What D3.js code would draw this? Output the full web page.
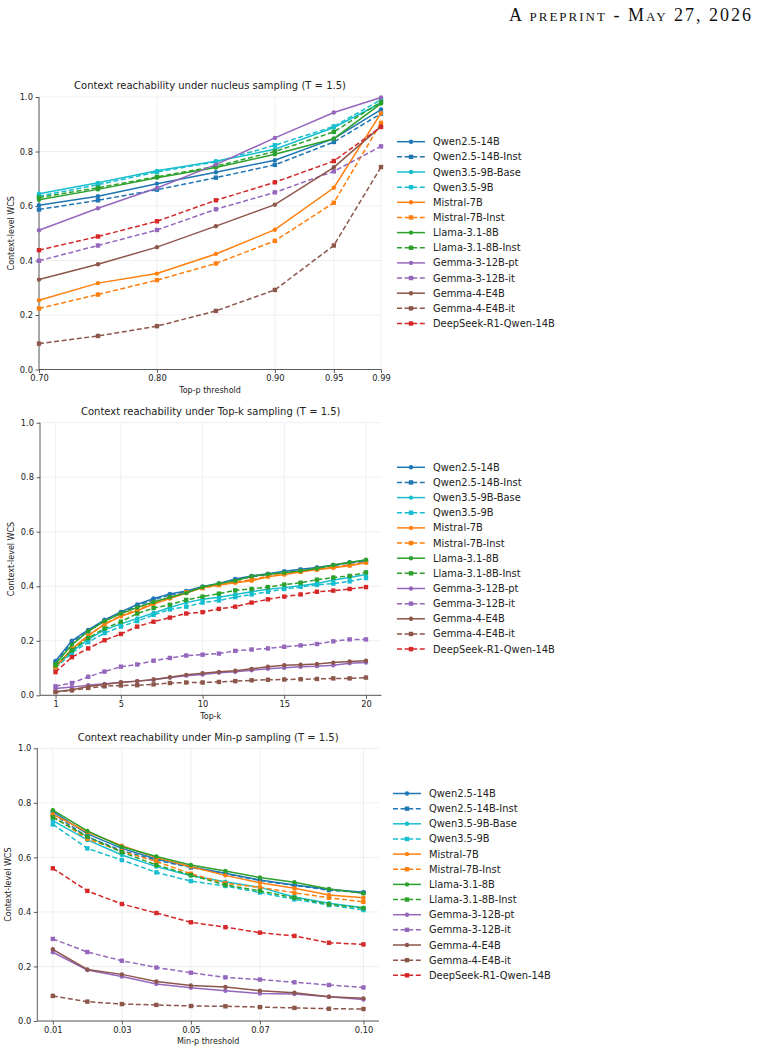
<!DOCTYPE html>
<html>
<head>
<meta charset="utf-8">
<script src="https://cdn.jsdelivr.net/npm/d3@7"></script>
<style>
  body { margin: 0; background: #fff; }
  svg { display: block; }
  text { font-family: "DejaVu Sans", sans-serif; fill: #222; }
</style>
</head>
<body>
<div id="viz"></div>
<script>

// models, in legend order
var models = ["Qwen2.5-14B", "Qwen2.5-14B-Inst", "Qwen3.5-9B-Base", "Qwen3.5-9B",
              "Mistral-7B", "Mistral-7B-Inst", "Llama-3.1-8B", "Llama-3.1-8B-Inst",
              "Gemma-3-12B-pt", "Gemma-3-12B-it", "Gemma-4-E4B", "Gemma-4-E4B-it",
              "DeepSeek-R1-Qwen-14B"];

// x values of each panel
var topP = [0.70, 0.75, 0.80, 0.85, 0.90, 0.95, 0.99];
var topK = d3.range(1, 21);
var minP = [0.01, 0.02, 0.03, 0.04, 0.05, 0.06, 0.07, 0.08, 0.09, 0.10];

var topPTicks = [0.70, 0.80, 0.90, 0.95, 0.99];
var topKTicks = [1, 5, 10, 15, 20];
var minPTicks = [0.01, 0.03, 0.05, 0.07, 0.10];

// context-level WCS, nucleus sampling (one row per model)
var nucleusWcs = [
  [0.603, 0.636, 0.682, 0.724, 0.768, 0.847, 0.954],
  [0.587, 0.621, 0.660, 0.704, 0.751, 0.835, 0.939],
  [0.645, 0.685, 0.729, 0.764, 0.808, 0.888, 0.978],
  [0.636, 0.678, 0.725, 0.762, 0.823, 0.892, 0.990],
  [0.254, 0.317, 0.352, 0.424, 0.513, 0.667, 0.941],
  [0.224, 0.275, 0.328, 0.389, 0.472, 0.612, 0.905],
  [0.623, 0.661, 0.704, 0.741, 0.790, 0.847, 0.976],
  [0.631, 0.667, 0.707, 0.746, 0.800, 0.872, 0.982],
  [0.511, 0.592, 0.666, 0.752, 0.850, 0.943, 0.998],
  [0.399, 0.455, 0.512, 0.588, 0.650, 0.727, 0.819],
  [0.330, 0.386, 0.449, 0.526, 0.605, 0.742, 0.892],
  [0.095, 0.123, 0.159, 0.215, 0.292, 0.455, 0.743],
  [0.438, 0.488, 0.544, 0.621, 0.687, 0.765, 0.890]
];

// top-k sampling, k = 1..20
var topKWcs = [
  [0.126, 0.200, 0.240, 0.277, 0.306, 0.333, 0.355, 0.372, 0.383, 0.399, 0.410, 0.427, 0.438, 0.446, 0.455, 0.462, 0.469, 0.478, 0.488, 0.494],
  [0.120, 0.194, 0.236, 0.273, 0.302, 0.328, 0.350, 0.368, 0.380, 0.396, 0.408, 0.424, 0.435, 0.443, 0.452, 0.460, 0.467, 0.476, 0.485, 0.491],
  [0.105, 0.160, 0.205, 0.240, 0.262, 0.282, 0.302, 0.322, 0.340, 0.352, 0.360, 0.370, 0.380, 0.389, 0.395, 0.402, 0.410, 0.423, 0.432, 0.443],
  [0.100, 0.155, 0.195, 0.228, 0.252, 0.272, 0.295, 0.315, 0.325, 0.340, 0.348, 0.360, 0.370, 0.380, 0.390, 0.398, 0.405, 0.410, 0.418, 0.430],
  [0.105, 0.170, 0.220, 0.260, 0.290, 0.310, 0.335, 0.355, 0.375, 0.395, 0.405, 0.413, 0.420, 0.435, 0.443, 0.452, 0.461, 0.468, 0.475, 0.486],
  [0.102, 0.168, 0.218, 0.262, 0.292, 0.314, 0.338, 0.358, 0.378, 0.393, 0.404, 0.416, 0.424, 0.437, 0.445, 0.454, 0.462, 0.470, 0.478, 0.488],
  [0.115, 0.185, 0.235, 0.272, 0.300, 0.322, 0.342, 0.360, 0.375, 0.397, 0.410, 0.420, 0.437, 0.444, 0.450, 0.457, 0.465, 0.478, 0.487, 0.497],
  [0.110, 0.165, 0.210, 0.245, 0.270, 0.300, 0.320, 0.332, 0.350, 0.362, 0.373, 0.385, 0.390, 0.397, 0.406, 0.413, 0.424, 0.432, 0.438, 0.451],
  [0.025, 0.030, 0.037, 0.042, 0.047, 0.052, 0.057, 0.065, 0.072, 0.076, 0.083, 0.086, 0.092, 0.097, 0.101, 0.105, 0.107, 0.110, 0.118, 0.120],
  [0.033, 0.045, 0.068, 0.087, 0.105, 0.113, 0.127, 0.137, 0.146, 0.149, 0.153, 0.163, 0.168, 0.172, 0.178, 0.183, 0.188, 0.198, 0.205, 0.205],
  [0.013, 0.020, 0.032, 0.040, 0.048, 0.052, 0.058, 0.066, 0.075, 0.081, 0.086, 0.090, 0.097, 0.105, 0.110, 0.112, 0.115, 0.120, 0.124, 0.127],
  [0.012, 0.018, 0.027, 0.033, 0.036, 0.037, 0.040, 0.045, 0.047, 0.047, 0.049, 0.052, 0.055, 0.057, 0.058, 0.059, 0.060, 0.062, 0.062, 0.065],
  [0.085, 0.140, 0.172, 0.202, 0.225, 0.252, 0.270, 0.285, 0.300, 0.305, 0.317, 0.325, 0.340, 0.352, 0.362, 0.370, 0.380, 0.384, 0.390, 0.397]
];

// min-p sampling
var minPWcs = [
  [0.768, 0.686, 0.633, 0.594, 0.566, 0.542, 0.517, 0.499, 0.483, 0.472],
  [0.760, 0.675, 0.625, 0.590, 0.563, 0.540, 0.515, 0.497, 0.480, 0.470],
  [0.735, 0.664, 0.609, 0.566, 0.533, 0.511, 0.490, 0.455, 0.432, 0.415],
  [0.721, 0.633, 0.590, 0.545, 0.513, 0.495, 0.471, 0.446, 0.425, 0.407],
  [0.758, 0.693, 0.643, 0.599, 0.566, 0.534, 0.507, 0.487, 0.462, 0.452],
  [0.750, 0.668, 0.622, 0.585, 0.540, 0.505, 0.490, 0.470, 0.452, 0.437],
  [0.773, 0.697, 0.639, 0.603, 0.572, 0.550, 0.526, 0.509, 0.484, 0.468],
  [0.747, 0.676, 0.619, 0.572, 0.535, 0.499, 0.477, 0.452, 0.428, 0.414],
  [0.252, 0.187, 0.163, 0.136, 0.122, 0.111, 0.101, 0.099, 0.089, 0.079],
  [0.301, 0.253, 0.221, 0.196, 0.177, 0.160, 0.152, 0.142, 0.132, 0.123],
  [0.263, 0.189, 0.171, 0.145, 0.130, 0.125, 0.111, 0.104, 0.089, 0.083],
  [0.092, 0.071, 0.062, 0.059, 0.055, 0.054, 0.051, 0.048, 0.045, 0.044],
  [0.560, 0.477, 0.429, 0.396, 0.362, 0.344, 0.324, 0.312, 0.287, 0.281]
];

var colors = ["#1f77b4", "#1f77b4", "#17becf", "#17becf", "#ff7f0e", "#ff7f0e",
              "#2ca02c", "#2ca02c", "#9467bd", "#9467bd", "#8c564b", "#8c564b", "#d62728"];
var dashed = [false, true, false, true, false, true, false, true, false, true, false, true, true];

var W = 758, H = 1053;
var svg = d3.select("#viz").append("svg")
    .attr("width", W)
    .attr("height", H);

// running header
svg.append("text")
    .attr("x", 751)
    .attr("y", 21)
    .attr("text-anchor", "end")
    .attr("textLength", 242)
    .attr("lengthAdjust", "spacing")
    .style("font-family", "'Liberation Serif', 'DejaVu Serif', serif")
    .style("font-size", "18px")
    .style("font-variant", "small-caps")
    .style("fill", "#111")
    .text("A preprint - May 27, 2026");

var panels = [
  {title: "Context reachability under nucleus sampling (T = 1.5)", xlab: "Top-p threshold",
   xs: topP, ys: nucleusWcs, ticks: topPTicks, fmt: d3.format(".2f"),
   dom: [0.70, 0.99], left: 39, right: 381, top: 97, bottom: 369.5, titleY: 89, xlabY: 393,
   legX: 397, legY: 141.7, ylabX: 14},
  {title: "Context reachability under Top-k sampling (T = 1.5)", xlab: "Top-k",
   xs: topK, ys: topKWcs, ticks: topKTicks, fmt: d3.format("d"),
   dom: [0.05, 20.95], left: 40, right: 381.5, top: 422.7, bottom: 695.3, titleY: 415, xlabY: 719,
   legX: 397, legY: 467.3, ylabX: 14},
  {title: "Context reachability under Min-p sampling (T = 1.5)", xlab: "Min-p threshold",
   xs: minP, ys: minPWcs, ticks: minPTicks, fmt: d3.format(".2f"),
   dom: [0.0055, 0.1045], left: 37.3, right: 379, top: 748.3, bottom: 1021, titleY: 741, xlabY: 1044,
   legX: 393, legY: 793.5, ylabX: 11}
];

panels.forEach(drawPanel);

function drawPanel(p){

    var x = d3.scaleLinear().domain(p.dom).range([p.left, p.right]),
        y = d3.scaleLinear().domain([0, 1]).range([p.bottom, p.top]);

    var g = svg.append("g");

    // grid
    g.selectAll(".gx").data(p.ticks).enter().append("line")
        .attr("x1", function(d){ return x(d); })
        .attr("x2", function(d){ return x(d); })
        .attr("y1", p.top).attr("y2", p.bottom)
        .attr("stroke", "#ebebeb").attr("stroke-width", 0.8);
    g.selectAll(".gy").data(y.ticks(5)).enter().append("line")
        .attr("x1", p.left).attr("x2", p.right)
        .attr("y1", function(d){ return y(d); })
        .attr("y2", function(d){ return y(d); })
        .attr("stroke", "#ebebeb").attr("stroke-width", 0.8);

    // axes
    var xAxis = g.append("g")
        .attr("transform", "translate(0," + p.bottom + ")")
        .call(d3.axisBottom(x).tickValues(p.ticks).tickFormat(p.fmt).tickSize(3.5).tickPadding(2.5));
    var yAxis = g.append("g")
        .attr("transform", "translate(" + p.left + ",0)")
        .call(d3.axisLeft(y).ticks(5).tickFormat(d3.format(".1f")).tickSize(3.5).tickPadding(2.5));

    [xAxis, yAxis].forEach(function(a){
        a.select(".domain").attr("stroke", "#333").attr("stroke-width", 0.8);
        a.selectAll(".tick line").attr("stroke", "#333").attr("stroke-width", 0.8);
        a.selectAll(".tick text")
            .style("font-family", "'DejaVu Sans', sans-serif")
            .style("font-size", "8.3px")
            .attr("fill", "#222");
    });
    // matplotlib-style flat spine ends
    xAxis.select(".domain").attr("d", "M" + p.left + ",0H" + p.right);
    yAxis.select(".domain").attr("d", "M0," + p.bottom + "V" + p.top);

    // title and labels
    g.append("text")
        .attr("x", (p.left + p.right) / 2)
        .attr("y", p.titleY)
        .attr("text-anchor", "middle")
        .style("font-size", "10px")
        .text(p.title);

    g.append("text")
        .attr("x", (p.left + p.right) / 2)
        .attr("y", p.xlabY)
        .attr("text-anchor", "middle")
        .style("font-size", "8px")
        .text(p.xlab);

    g.append("text")
        .attr("transform", "translate(" + p.ylabX + "," + ((p.top + p.bottom) / 2) + ") rotate(-90)")
        .attr("text-anchor", "middle")
        .style("font-size", "8px")
        .text("Context-level WCS");

    var line = d3.line()
        .x(function(d){ return x(d[0]); })
        .y(function(d){ return y(d[1]); });

    // series
    models.forEach(function(m, i){
        var pts = p.xs.map(function(v, j){ return [v, p.ys[i][j]]; });
        var s = g.append("g");

        s.append("path")
            .datum(pts)
            .attr("d", line)
            .attr("fill", "none")
            .attr("stroke", colors[i])
            .attr("stroke-width", 1.5)
            .attr("stroke-dasharray", dashed[i] ? "5,2.6" : null);

        if(dashed[i]){
            s.selectAll("rect").data(pts).enter().append("rect")
                .attr("x", function(d){ return x(d[0]) - 2.2; })
                .attr("y", function(d){ return y(d[1]) - 2.2; })
                .attr("width", 4.4).attr("height", 4.4)
                .attr("fill", colors[i]);
        } else {
            s.selectAll("circle").data(pts).enter().append("circle")
                .attr("cx", function(d){ return x(d[0]); })
                .attr("cy", function(d){ return y(d[1]); })
                .attr("r", 2.2)
                .attr("fill", colors[i]);
        }
    });

    // legend
    var leg = svg.append("g")
        .attr("transform", "translate(" + p.legX + "," + p.legY + ")");

    models.forEach(function(m, i){
        var row = leg.append("g").attr("transform", "translate(0," + (i * 15.15) + ")");
        row.append("line")
            .attr("x1", 0).attr("x2", 28)
            .attr("stroke", colors[i])
            .attr("stroke-width", 1.5)
            .attr("stroke-dasharray", dashed[i] ? "5,2.6" : null);
        if(dashed[i]){
            row.append("rect").attr("x", 11.8).attr("y", -2.2).attr("width", 4.4).attr("height", 4.4)
                .attr("fill", colors[i]);
        } else {
            row.append("circle").attr("cx", 14).attr("cy", 0).attr("r", 2.2).attr("fill", colors[i]);
        }
        row.append("text")
            .attr("x", 36)
            .attr("y", 3.5)
            .style("font-size", "9.9px")
            .text(m);
    });
}

</script>
</body>
</html>
